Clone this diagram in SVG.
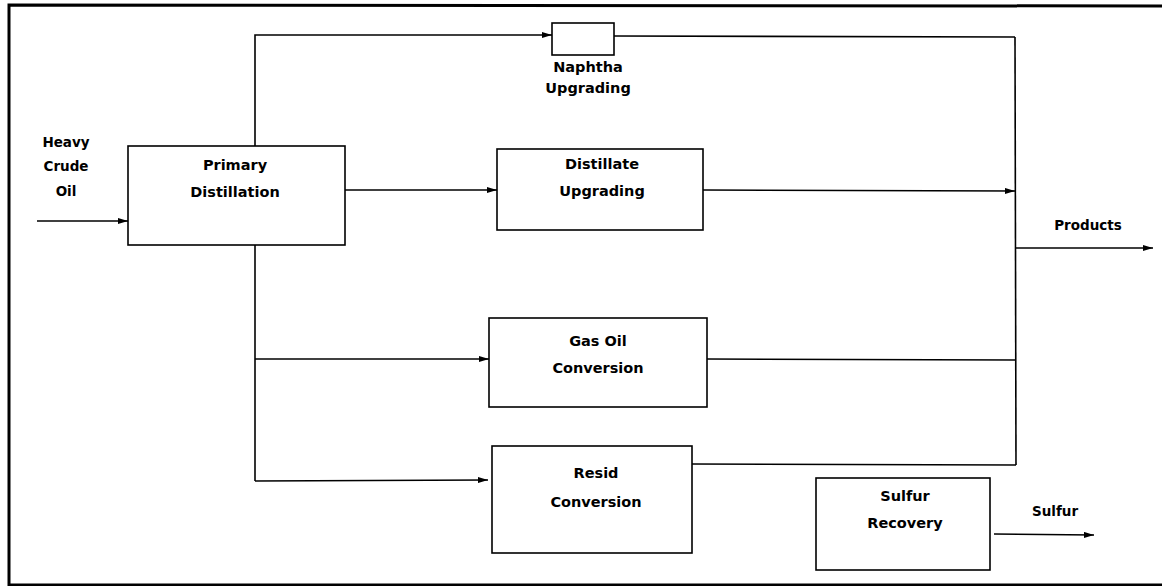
<svg xmlns="http://www.w3.org/2000/svg" width="1162" height="586" viewBox="0 0 1162 586">
<defs>
<marker id="ah" viewBox="0 0 10 6" refX="10" refY="3" markerWidth="10" markerHeight="6" markerUnits="userSpaceOnUse" orient="auto">
<path d="M0,0 L10,3 L0,6 Z" fill="#000"/>
</marker>
<style>
.box{fill:#fff;stroke:#000;stroke-width:1.6}
.ln{fill:none;stroke:#000;stroke-width:1.6}
.arr{fill:none;stroke:#000;stroke-width:1.6;marker-end:url(#ah)}
.frame{fill:none;stroke:#000;stroke-width:3}
.t{font-family:"DejaVu Sans",sans-serif;font-weight:bold;font-size:14.5px;text-anchor:middle;fill:#000}
.s{font-family:"DejaVu Sans",sans-serif;font-weight:bold;font-size:13.5px;text-anchor:middle;fill:#000}
</style>
</defs>
<rect width="1162" height="586" fill="#fff"/>
<g id="frame">
<path class="frame" d="M1162,6 L9,5 L9,585 L1162,585"/>
</g>
<g id="connectors">
<line class="arr" x1="37" y1="221" x2="128" y2="221"/>
<path class="arr" d="M255,146 L255,35 L552,35"/>
<path class="ln" d="M614,36 L1015,37"/>
<line class="arr" x1="345" y1="190" x2="497" y2="190"/>
<line class="arr" x1="703" y1="190" x2="1015" y2="191"/>
<path class="ln" d="M255,245 L255,481"/>
<line class="arr" x1="255" y1="359" x2="489" y2="359"/>
<line class="arr" x1="255" y1="481" x2="488" y2="480"/>
<path class="ln" d="M707,359 L1016,360"/>
<path class="ln" d="M692,464 L1016,465"/>
<path class="ln" d="M1015,37 L1016,465"/>
<line class="arr" x1="1016" y1="248" x2="1153" y2="248"/>
<line class="arr" x1="994" y1="534" x2="1094" y2="535"/>
</g>
<g id="heavy-crude-oil">
<text class="s" x="66" y="147">Heavy</text>
<text class="s" x="66" y="171">Crude</text>
<text class="s" x="66" y="196">Oil</text>
</g>
<g id="primary-distillation">
<rect class="box" x="128" y="146" width="217" height="99"/>
<text class="t" x="235" y="170">Primary</text>
<text class="t" x="235" y="197">Distillation</text>
</g>
<g id="naphtha-upgrading">
<rect class="box" x="552" y="23" width="62" height="32"/>
<text class="t" x="588" y="72">Naphtha</text>
<text class="t" x="588" y="93">Upgrading</text>
</g>
<g id="distillate-upgrading">
<rect class="box" x="497" y="149" width="206" height="81"/>
<text class="t" x="602" y="169">Distillate</text>
<text class="t" x="602" y="196">Upgrading</text>
</g>
<g id="gas-oil-conversion">
<rect class="box" x="489" y="318" width="218" height="89"/>
<text class="t" x="598" y="346">Gas Oil</text>
<text class="t" x="598" y="373">Conversion</text>
</g>
<g id="resid-conversion">
<rect class="box" x="492" y="446" width="200" height="107"/>
<text class="t" x="596" y="478">Resid</text>
<text class="t" x="596" y="507">Conversion</text>
</g>
<g id="sulfur-recovery">
<rect class="box" x="816" y="478" width="174" height="92"/>
<text class="t" x="905" y="501">Sulfur</text>
<text class="t" x="905" y="528">Recovery</text>
</g>
<g id="products">
<text class="s" x="1088" y="230">Products</text>
</g>
<g id="sulfur-out">
<text class="s" x="1055" y="516">Sulfur</text>
</g>
</svg>
